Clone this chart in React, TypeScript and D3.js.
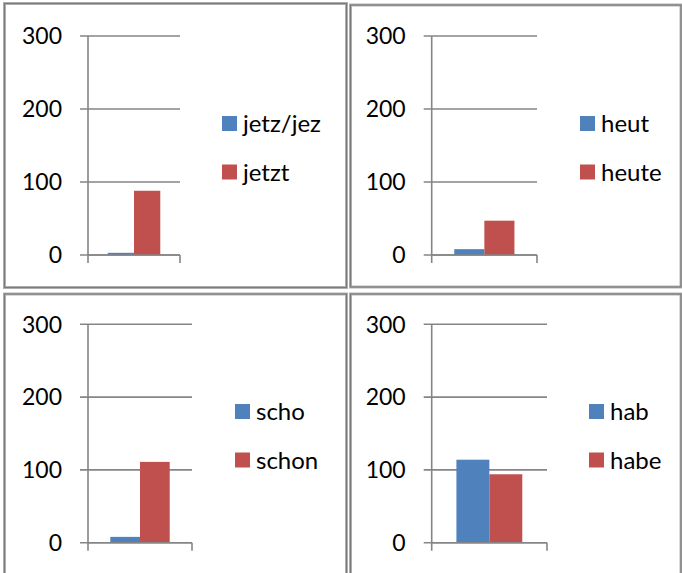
import React from "react";
import * as d3 from "d3";

// ---- data ----
const seriesA: string[] = ["jetz/jez", "heut", "scho", "hab"];
const seriesB: string[] = ["jetzt", "heute", "schon", "habe"];
const valuesA: number[] = [3, 8, 8, 114];
const valuesB: number[] = [88, 47, 111, 94];
const yTicks: number[] = [0, 100, 200, 300];
const yMax = 300;

const BLUE = "#4F81BD";
const RED = "#C0504D";
const GRID = "#858585";
const FONT = "Lato, 'Open Sans', sans-serif";
const FS = 23;
const LFS = 24;

// ---- layout (pixels) ----
const layout = [
  { bx: 4.5, by: 3.5, bw: 342, bh: 284, axisX: 88, right: 180, y0: 255, yTop: 36, legX: 222, legY: 116 },
  { bx: 350.5, by: 5, bw: 330.5, bh: 282, axisX: 431.7, right: 537, y0: 255, yTop: 36, legX: 580, legY: 116 },
  { bx: 4.5, by: 294, bw: 342, bh: 300, axisX: 88, right: 192, y0: 542.7, yTop: 324.3, legX: 235, legY: 404 },
  { bx: 350.5, by: 294, bw: 330.5, bh: 300, axisX: 431.7, right: 547, y0: 542.7, yTop: 324.3, legX: 589, legY: 404 },
];

function Panel({ i }: { i: number }) {
  const L = layout[i];
  const y = d3.scaleLinear().domain([0, yMax]).range([L.y0, L.yTop]);
  const x = d3
    .scaleBand<string>()
    .domain(["a", "b"])
    .range([L.axisX, L.right])
    .paddingInner(0)
    .paddingOuter(0.75);
  const bars = [
    { key: "a", v: valuesA[i], c: BLUE, label: seriesA[i] },
    { key: "b", v: valuesB[i], c: RED, label: seriesB[i] },
  ];
  return (
    <g>
      <rect x={L.bx} y={L.by} width={L.bw} height={L.bh} fill="#fff" stroke="#b4b4b4" strokeWidth={3} />
      <rect x={L.bx} y={L.by} width={L.bw} height={L.bh} fill="none" stroke="#7a7a7a" strokeWidth={1.2} />
      {yTicks.map((t) => (
        <g key={t}>
          <line x1={L.axisX - 8} x2={L.right} y1={y(t)} y2={y(t)} stroke={GRID} strokeWidth={1.6} />
          <text
            x={L.axisX - 26}
            y={y(t)}
            dy="0.36em"
            textAnchor="end"
            fontFamily={FONT}
            fontSize={FS}
            fill="#000"
          >
            {t}
          </text>
        </g>
      ))}
      <line x1={L.axisX} x2={L.axisX} y1={L.yTop} y2={L.y0 + 8} stroke={GRID} strokeWidth={1.6} />
      <line x1={L.right} x2={L.right} y1={L.y0} y2={L.y0 + 8} stroke={GRID} strokeWidth={1.6} />
      {bars.map((b) => (
        <rect
          key={b.key}
          x={x(b.key)}
          y={y(b.v)}
          width={x.bandwidth()}
          height={L.y0 - y(b.v)}
          fill={b.c}
        />
      ))}
      <line x1={L.axisX} x2={L.right} y1={L.y0} y2={L.y0} stroke={GRID} strokeWidth={1.6} />
      {bars.map((b, j) => (
        <g key={"l" + b.key}>
          <rect x={L.legX} y={L.legY + j * 48.5} width={15} height={15} fill={b.c} />
          <text
            x={L.legX + 21}
            y={L.legY + j * 48.5 + 7.5}
            dy="0.36em"
            fontFamily={FONT}
            fontSize={LFS}
            fill="#000"
          >
            {b.label}
          </text>
        </g>
      ))}
    </g>
  );
}

export default function App() {
  return (
    <svg
      width={682}
      height={573}
      style={{ position: "absolute", left: 0, top: 0, background: "#fff" }}
    >
      {layout.map((_, i) => (
        <Panel key={i} i={i} />
      ))}
    </svg>
  );
}
